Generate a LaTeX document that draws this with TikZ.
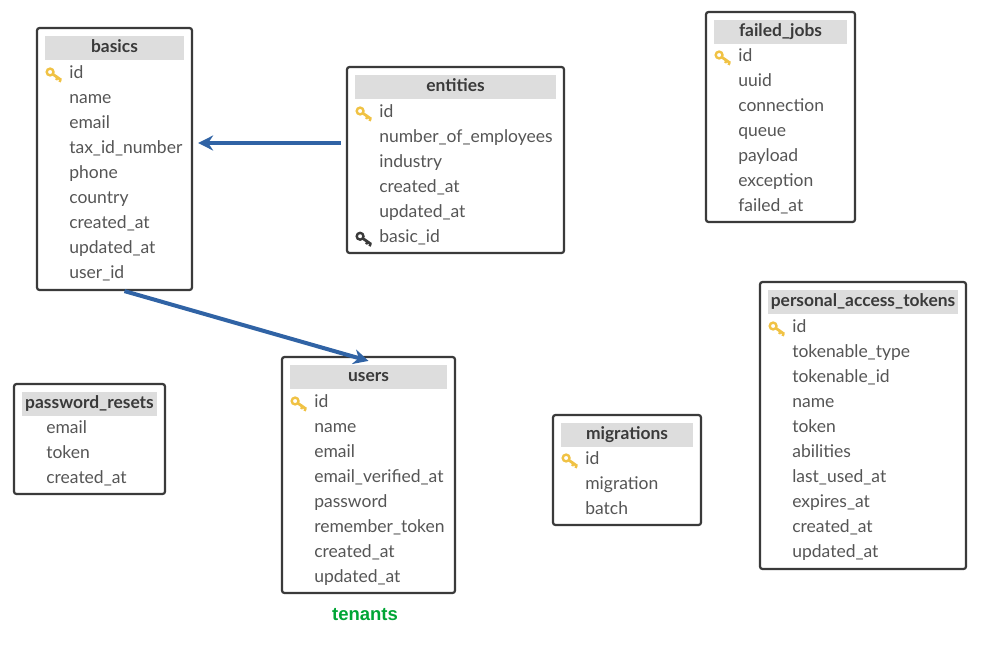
\documentclass[tikz,border=0pt]{standalone}
\usepackage{fontspec}
\setmainfont{Lato}
\newfontfamily\captionfont{Liberation Sans}
\usetikzlibrary{fit,arrows.meta}
\definecolor{framegray}{HTML}{3A3A3A}
\definecolor{headgray}{HTML}{DDDDDD}
\definecolor{fieldgray}{HTML}{555555}
\definecolor{keygold}{HTML}{F0C244}
\definecolor{linkblue}{HTML}{3063A5}
\definecolor{tenantgreen}{HTML}{00A535}

% [row offset], name, title, left, top, right, bottom, fields
\newcommand{\dbtable}[8][46]{
  \node[tablebox,fit={(#4,#5) (#6,#7)}] (#2) {};
  \node[headbar,minimum width={#6-#4-15.5},minimum height=24pt] (#2-head) at ({(#4+#6)/2},#5+20) {#3};
  \foreach \field [count=\i] in {#8} {
    \node[fieldrow] (#2-\i) at (#4+32.1,#5+#1+25.05*\i-25.05) {\field};
  }
}

\begin{document}
\begin{tikzpicture} [
  x=1pt,y=-1pt,
  tablebox/.style={rectangle,draw=framegray,line width=2.2pt,rounded corners=2.5pt,inner sep=0pt},
  headbar/.style={rectangle,fill=headgray,inner sep=0pt,font=\fontsize{17.4}{17.4}\selectfont\bfseries,
    text=framegray,text height=12pt,text depth=4pt},
  fieldrow/.style={anchor=west,inner sep=0pt,font=\fontsize{17.5}{17.5}\selectfont,
    text=fieldgray,text height=12pt,text depth=4pt},
  link/.style={draw=linkblue,line width=4pt,-{Stealth[length=15pt,width=15pt]}},
  keyicon/.pic={
    \draw[line width=2.4pt,pic actions] (-4,-3) circle (3.4);
    \draw[line width=2.8pt,pic actions] (-1.5,-1) -- (7,5);
    \draw[line width=2.4pt,pic actions] (3.5,2.5) -- (2,5);
    \draw[line width=2.4pt,pic actions] (6.5,4.5) -- (5.5,7);
  }]

\useasboundingbox (0,0) rectangle (986,653);

\dbtable{basics}{basics}{37}{28}{192}{290}
  {id,name,email,tax\_id\_number,phone,country,created\_at,updated\_at,user\_id}
\dbtable{entities}{entities}{347}{67}{564}{253}
  {id,number\_of\_employees,industry,created\_at,updated\_at,basic\_id}
\dbtable[45]{failedjobs}{failed\_jobs}{706}{12}{855}{222}
  {id,uuid,connection,queue,payload,exception,failed\_at}
\dbtable{tokens}{personal\_access\_tokens}{760}{282}{966}{569}
  {id,tokenable\_type,tokenable\_id,name,token,abilities,last\_used\_at,expires\_at,created\_at,updated\_at}
\dbtable{users}{users}{282}{357}{455}{593}
  {id,name,email,email\_verified\_at,password,remember\_token,created\_at,updated\_at}
\dbtable[45]{resets}{password\_resets}{14}{384}{165}{494}
  {email,token,created\_at}
\dbtable[45]{migrations}{migrations}{553}{415}{701}{525}
  {id,migration,batch}

\foreach \tbl in {basics,entities,failedjobs,tokens,users,migrations} {
  \pic[draw=keygold] at ([xshift=-15pt,yshift=-1pt]\tbl-1.west) {keyicon};
}
\pic[draw=framegray] at ([xshift=-15pt,yshift=-1pt]entities-6.west) {keyicon};

\node[font=\captionfont\fontsize{18.5}{18.5}\selectfont\bfseries,text=tenantgreen,inner sep=0pt] (tenants) at (365,615) {tenants};

\draw[link] ([shift={(-5,-17)}]entities.west) -- ([shift={(5,-16)}]basics.east);
\draw[link] ([xshift=10pt]basics.south) -- ([yshift=-5pt]users.north);
\end{tikzpicture}
\end{document}
